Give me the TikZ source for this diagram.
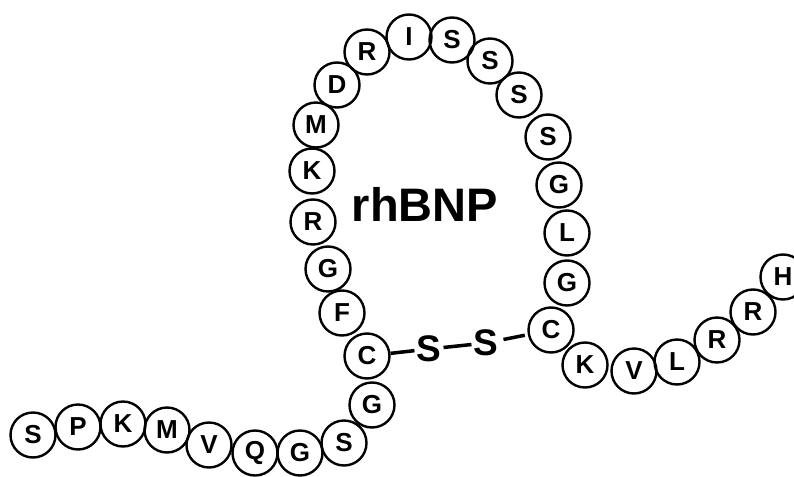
\documentclass[tikz,border=0pt]{standalone}
\usepackage{fontspec}
\setsansfont{Liberation Sans}
\usetikzlibrary{positioning}

\begin{document}
\begin{tikzpicture}[x=1pt,y=-1pt]
                    \tikzstyle{res}=[circle,draw,line width=2.4pt,minimum size=45pt,inner sep=0pt,
                                     font=\sffamily\bfseries\fontsize{26}{26}\selectfont]
                    \tikzstyle{sulfur}=[inner sep=2pt,font=\sffamily\bfseries\fontsize{37}{37}\selectfont]
                    \tikzstyle{bondline}=[line width=3.5pt,shorten <=3pt,shorten >=3pt]
                    \useasboundingbox (0,0) rectangle (794,476);

                    % N-terminal tail
                    \node (s1) [res] at (33,435) {S};
                    \node (p1) [res] at (78,427) {P};
                    \node (k1) [res] at (123,424) {K};
                    \node (m1) [res] at (167,430) {M};
                    \node (v1) [res] at (209,445) {V};
                    \node (q1) [res] at (255,453) {Q};
                    \node (g1) [res] at (300,453) {G};
                    \node (s2) [res] at (344,443) {S};
                    \node (g2) [res] at (372,405) {G};

                    % ring
                    \node (c1) [res] at (367,356) {C};
                    \node (f1) [res] at (342,313) {F};
                    \node (g3) [res] at (328,269) {G};
                    \node (r1) [res] at (313,222) {R};
                    \node (k2) [res] at (312,171) {K};
                    \node (m2) [res] at (316,125) {M};
                    \node (d1) [res] at (337,85) {D};
                    \node (r2) [res] at (367,52) {R};
                    \node (i1) [res] at (409,37) {I};
                    \node (s3) [res] at (452,40) {S};
                    \node (s4) [res] at (490,61) {S};
                    \node (s5) [res] at (519,95) {S};
                    \node (s6) [res] at (548,137) {S};
                    \node (g4) [res] at (559,185) {G};
                    \node (l1) [res] at (567,233) {L};
                    \node (g5) [res] at (567,283) {G};
                    \node (c2) [res] at (551,330) {C};

                    % C-terminal tail
                    \node (k3) [res] at (585,365) {K};
                    \node (v2) [res] at (634,371) {V};
                    \node (l2) [res] at (677,362) {L};
                    \node (r3) [res] at (717,340) {R};
                    \node (r4) [res] at (753,312) {R};
                    \node (h1) [res] at (783,277) {H};

                    % disulfide bridge
                    \node (ss1) [sulfur] at (429,349) {S};
                    \node (ss2) [sulfur] at (486,343) {S};
                    \draw[bondline] (c1) -- (ss1) -- (ss2) -- (c2);

                    \node (name) [font=\sffamily\bfseries\fontsize{47}{47}\selectfont] at (425,204) {rhBNP};
\end{tikzpicture}
\end{document}
